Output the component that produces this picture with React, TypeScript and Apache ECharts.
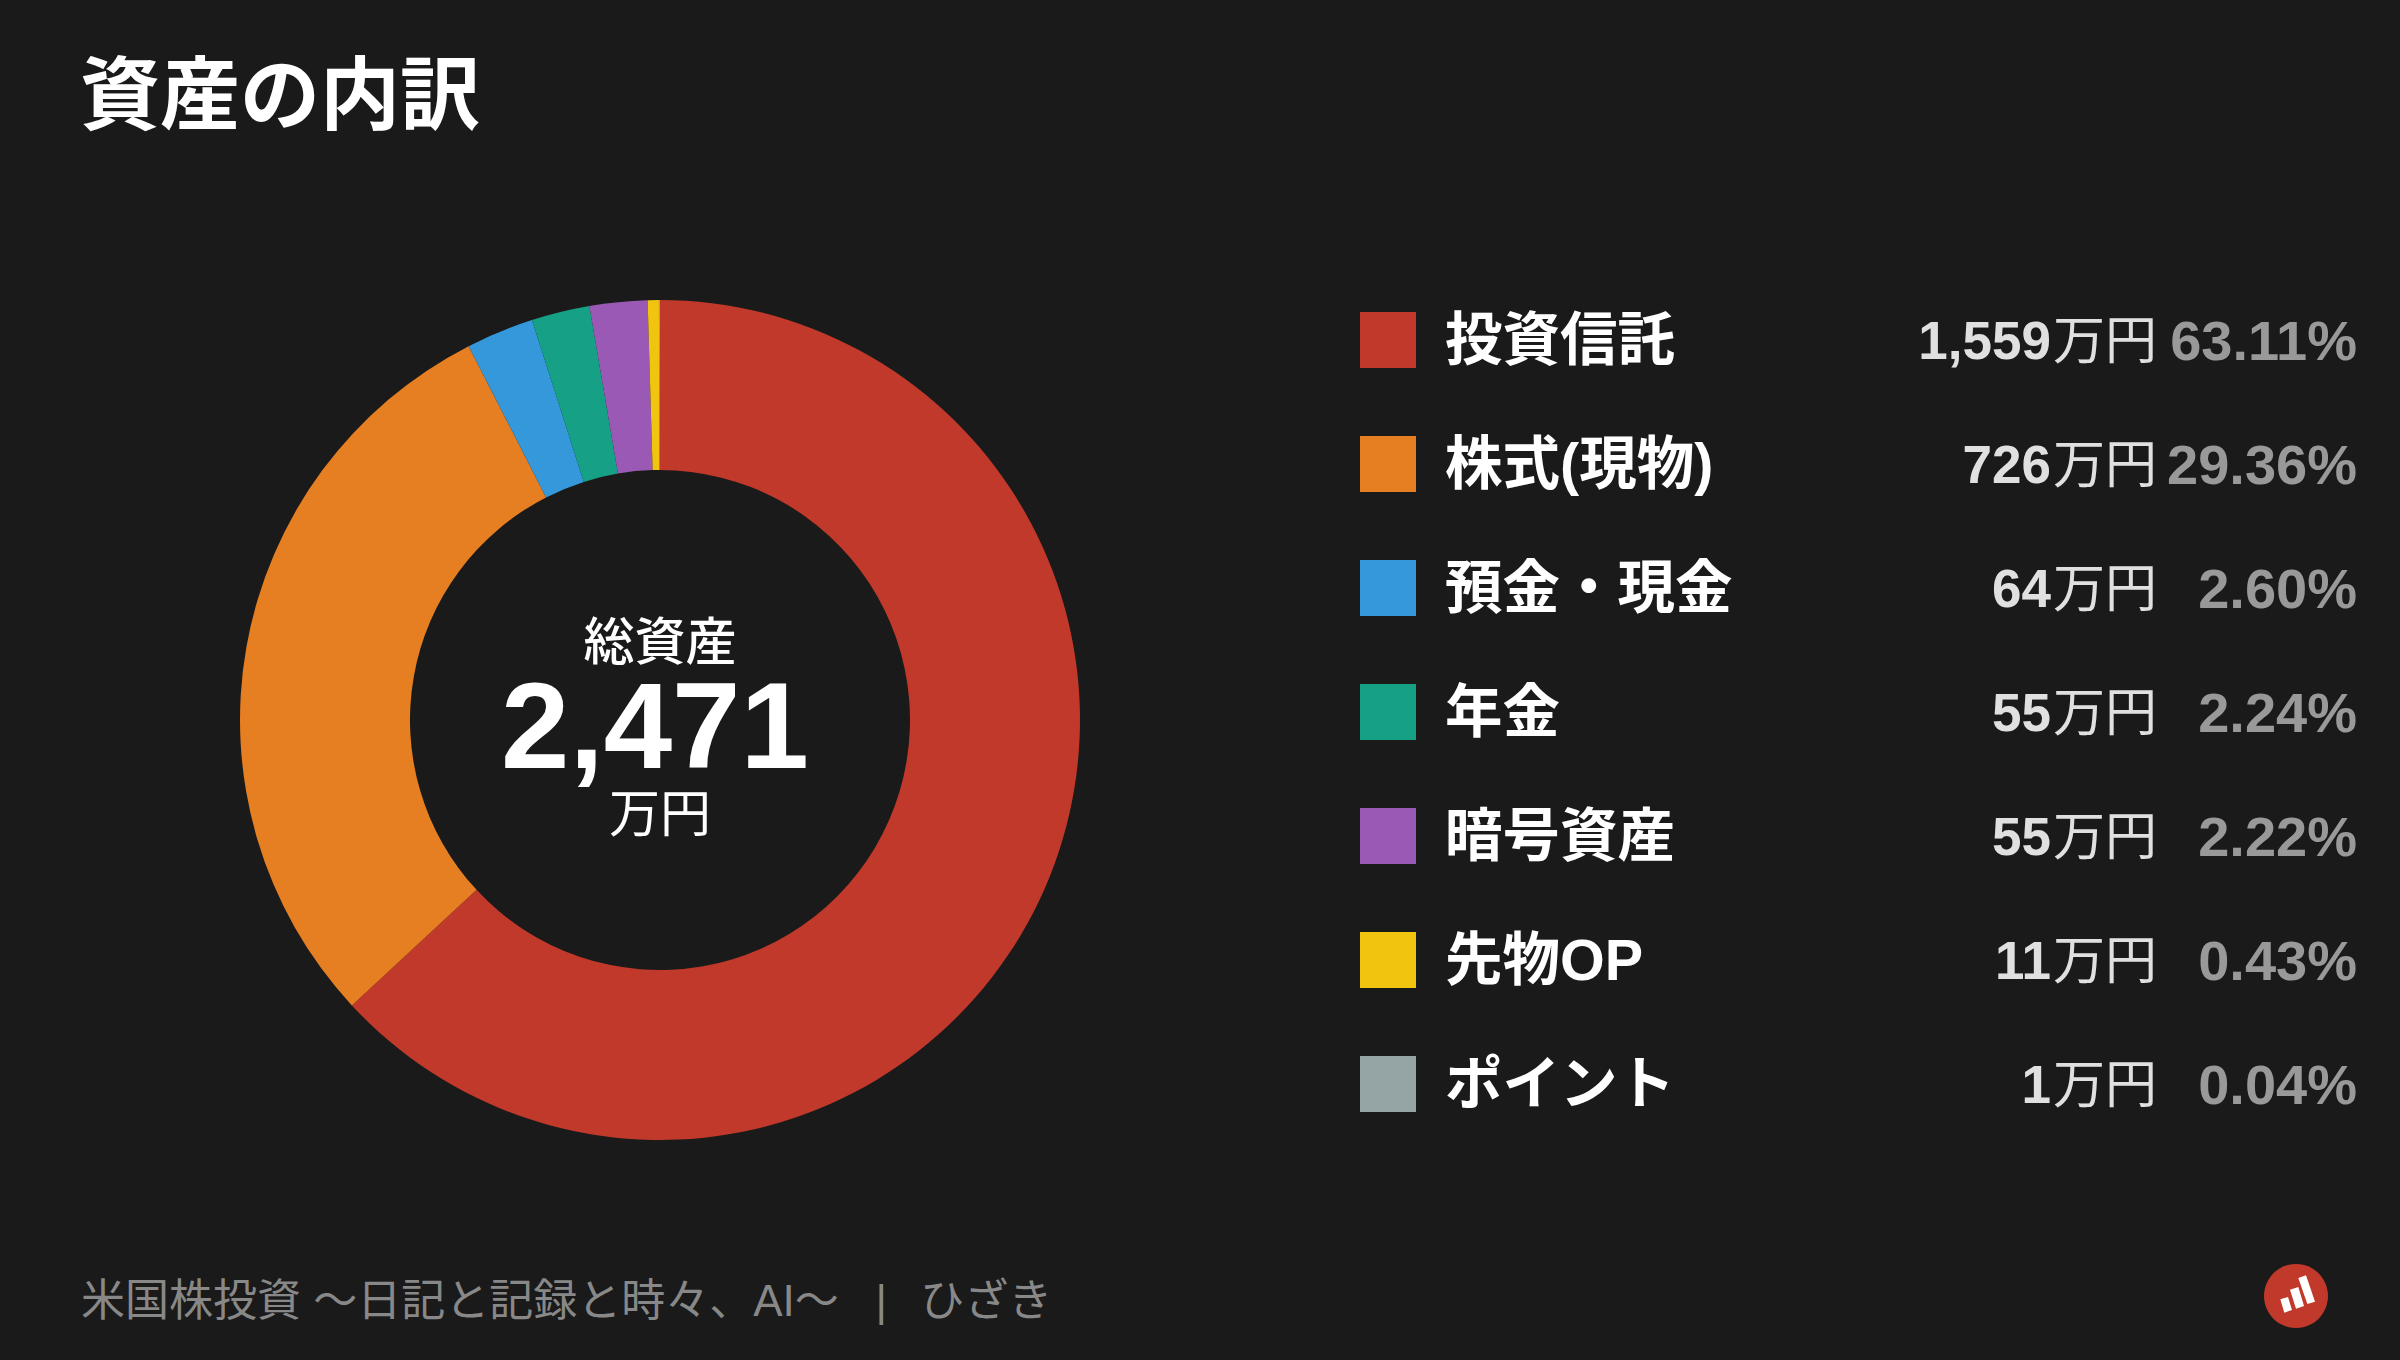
import React, { useEffect, useRef } from "react";
import * as echarts from "echarts";

const chartTitle = "資産の内訳";
const categories = ["投資信託", "株式(現物)", "預金・現金", "年金", "暗号資産", "先物OP", "ポイント"];
const amounts = ["1,559", "726", "64", "55", "55", "11", "1"];
const percents = [63.11, 29.36, 2.6, 2.24, 2.22, 0.43, 0.04];
const colors = ["#c0392b", "#e67e22", "#3498db", "#16a085", "#9b59b6", "#f1c40f", "#95a5a6"];
const centerLabel = "総資産";
const centerValue = "2,471";
const unit = "万円";
const footer = "米国株投資 〜日記と記録と時々、AI〜   |  \u2009ひざき";

const FONT = '"Liberation Sans","Noto Sans CJK JP",sans-serif';
const CJK = '"Noto Sans CJK JP",sans-serif';

function pts(list: number[][]) {
  return list.map(([x, y]) => [2200 + x / 3, 1240 + y / 3]);
}

export default function App() {
  const ref = useRef<HTMLDivElement>(null);
  useEffect(() => {
    document.body.style.margin = "0";
    document.body.style.background = "#1a1a1a";
    const chart = echarts.init(ref.current!, null, { renderer: "svg" });
    chart.setOption({
      animation: false,
      backgroundColor: "#1a1a1a",
      color: colors,
      title: {
        text: chartTitle,
        left: 80,
        top: 48,
        padding: 0,
        textStyle: { color: "#ffffff", fontSize: 80, fontWeight: "bold", fontFamily: CJK },
      },
      legend: {
        orient: "vertical",
        left: 1360,
        top: 310,
        padding: 0,
        itemWidth: 56,
        itemHeight: 56,
        itemGap: 64,
        itemStyle: { borderWidth: 0 },
        icon: "rect",
        selectedMode: false,
        data: categories,
        formatter: (name: string) => {
          const i = categories.indexOf(name);
          return `{n|${name}}{v|${amounts[i]}}{u|${unit}}{p|${percents[i].toFixed(2)}%}`;
        },
        textStyle: {
          rich: {
            n: { width: 401, padding: [0, 0, 0, 24], align: "left", color: "#ffffff", fontSize: 57.5, lineHeight: 60, fontWeight: "bold", fontFamily: FONT },
            v: { width: 205, align: "right", color: "#e0e0e0", fontSize: 53, lineHeight: 60, fontWeight: "bold", fontFamily: FONT },
            u: { width: 106, padding: [0, 0, 8, 0], align: "right", color: "#e0e0e0", fontSize: 52, lineHeight: 60, fontFamily: CJK },
            p: { width: 200, align: "right", color: "#999999", fontSize: 56, lineHeight: 60, fontWeight: "bold", fontFamily: FONT },
          },
        },
      },
      series: [
        {
          type: "pie",
          center: [660, 720],
          radius: [250, 420],
          startAngle: 90,
          clockwise: true,
          silent: true,
          label: { show: false },
          labelLine: { show: false },
          itemStyle: { borderWidth: 0 },
          data: categories.map((name, i) => ({ name, value: percents[i] })),
        },
      ],
      graphic: [
        { type: "text", x: 660, y: 638, style: { text: centerLabel, fill: "#fff", font: `500 51px ${CJK}`, textAlign: "center", textVerticalAlign: "middle" } },
        { type: "text", x: 655, y: 725, style: { text: centerValue, fill: "#fff", font: `bold 123px ${FONT}`, textAlign: "center", textVerticalAlign: "middle" } },
        { type: "text", x: 660, y: 810, style: { text: unit, fill: "#fff", font: `400 51px ${CJK}`, textAlign: "center", textVerticalAlign: "middle" } },
        { type: "text", x: 81, y: 1300, style: { text: footer, fill: "#888888", font: `400 44px ${FONT}`, textAlign: "left", textVerticalAlign: "middle" } },
        { type: "circle", shape: { cx: 2296, cy: 1296, r: 32 }, style: { fill: "#c0392b" } },
        { type: "polygon", shape: { points: pts([[241, 178], [264, 171], [276, 210], [253, 218]]) }, style: { fill: "#fff" } },
        { type: "polygon", shape: { points: pts([[270, 149], [295, 141], [312, 198], [288, 206]]) }, style: { fill: "#fff" } },
        { type: "polygon", shape: { points: pts([[295, 114], [318, 106], [345, 185], [322, 192]]) }, style: { fill: "#fff" } },
      ],
    });
    return () => chart.dispose();
  }, []);
  return <div ref={ref} style={{ width: 2400, height: 1360 }} />;
}
